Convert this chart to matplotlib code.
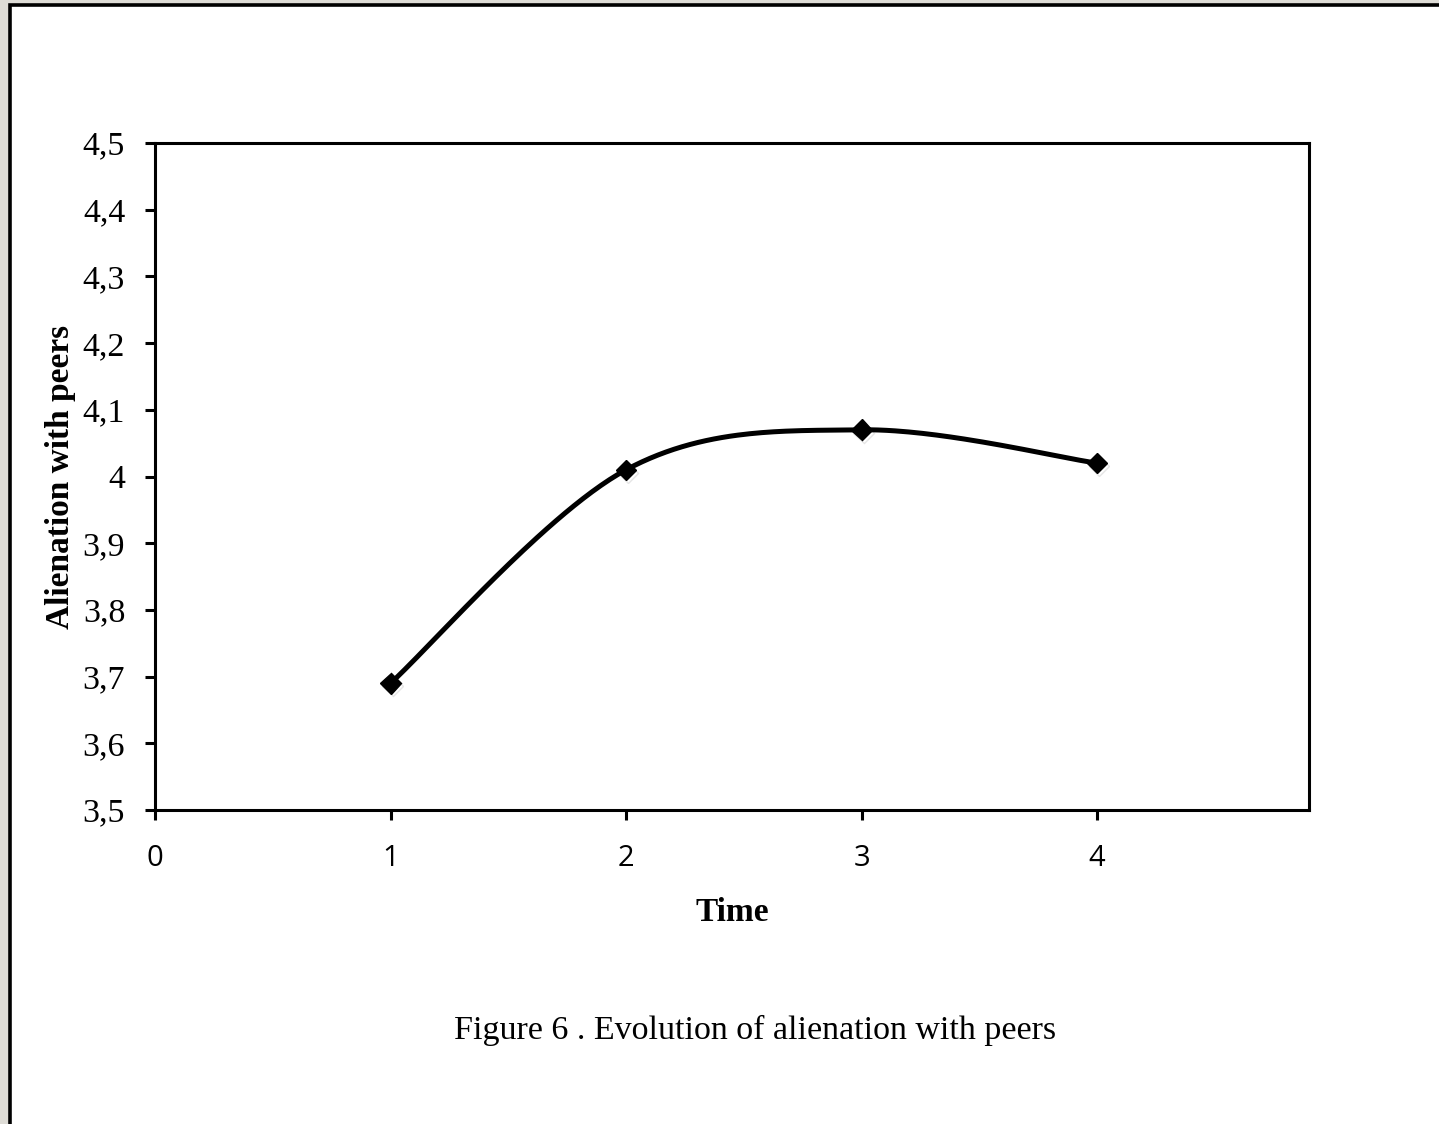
import numpy as np
import matplotlib
matplotlib.use("Agg")
import matplotlib.pyplot as plt
from matplotlib.patches import Rectangle
import matplotlib.patheffects as pe

# Data
time_points = [1, 2, 3, 4]
alienation = [3.69, 4.01, 4.07, 4.02]
x_ticks = [0, 1, 2, 3, 4]
y_ticks = [3.5, 3.6, 3.7, 3.8, 3.9, 4.0, 4.1, 4.2, 4.3, 4.4, 4.5]
y_tick_labels = ["3,5", "3,6", "3,7", "3,8", "3,9", "4", "4,1", "4,2", "4,3", "4,4", "4,5"]


def smooth_curve(xs, ys, n=60):
    """Catmull-Rom style Bezier smoothing between consecutive points."""
    xs = np.asarray(xs, float)
    ys = np.asarray(ys, float)
    pts = np.column_stack([xs, ys])
    out = []
    for i in range(len(pts) - 1):
        p0 = pts[i - 1] if i > 0 else pts[i]
        p1 = pts[i]
        p2 = pts[i + 1]
        p3 = pts[i + 2] if i + 2 < len(pts) else pts[i + 1]
        c1 = p1 + (p2 - p0) / 6.0
        c2 = p2 - (p3 - p1) / 6.0
        t = np.linspace(0, 1, n)[:, None]
        seg = ((1 - t) ** 3) * p1 + 3 * ((1 - t) ** 2) * t * c1 + 3 * (1 - t) * t ** 2 * c2 + t ** 3 * p2
        out.append(seg if i == 0 else seg[1:])
    seg = np.vstack(out)
    return seg[:, 0], seg[:, 1]


W, H, DPI = 1439, 1124, 100
fig = plt.figure(figsize=(W / DPI, H / DPI), dpi=DPI)
fig.patch.set_facecolor("#dedcd6")

# White panel with black frame, drawn behind the axes
panel = Rectangle((10 / W, -0.05), 1.2, (H - 5) / H + 0.05, transform=fig.transFigure,
                  facecolor="white", edgecolor="black", linewidth=2.6, zorder=-10)
fig.patches.append(panel)

ax = fig.add_axes([155 / W, 1 - 810 / H, (1309 - 155) / W, (810 - 143) / H])
ax.set_zorder(1)
ax.set_facecolor("none")
ax.set_xlim(0, 4.9)
ax.set_ylim(3.5, 4.5)

sx, sy = smooth_curve(time_points, alienation)
shadow = [pe.SimpleLineShadow(offset=(1.5, -2), shadow_color="black", alpha=0.1), pe.Normal()]
ax.plot(sx, sy, color="black", linewidth=3.6, solid_capstyle="round", zorder=3)
ax.plot(time_points, alienation, linestyle="none", marker="D", markersize=10.5,
        color="black", zorder=4, path_effects=shadow)

for s in ax.spines.values():
    s.set_linewidth(2.2)
    s.set_color("black")

ax.set_xticks(x_ticks)
ax.set_xticklabels([str(v) for v in x_ticks], fontfamily="Open Sans", fontsize=21)
ax.set_yticks(y_ticks)
ax.set_yticklabels(y_tick_labels, fontfamily="Liberation Serif", fontsize=24.5)
ax.tick_params(axis="both", direction="out", length=7.5, width=2.2, color="black")
ax.tick_params(axis="x", pad=17)
ax.tick_params(axis="y", pad=14)

ax.set_xlabel("Time", fontfamily="Liberation Serif", fontweight="bold", fontsize=24, labelpad=17)
ax.set_ylabel("Alienation with peers", fontfamily="Liberation Serif", fontweight="bold",
              fontsize=24, labelpad=5)

fig.text(755 / W, 1 - 1030 / H, "Figure 6 . Evolution of alienation with peers",
         fontfamily="Liberation Serif", fontsize=24.5, ha="center", va="center")

fig.savefig("out.png", dpi=DPI)
